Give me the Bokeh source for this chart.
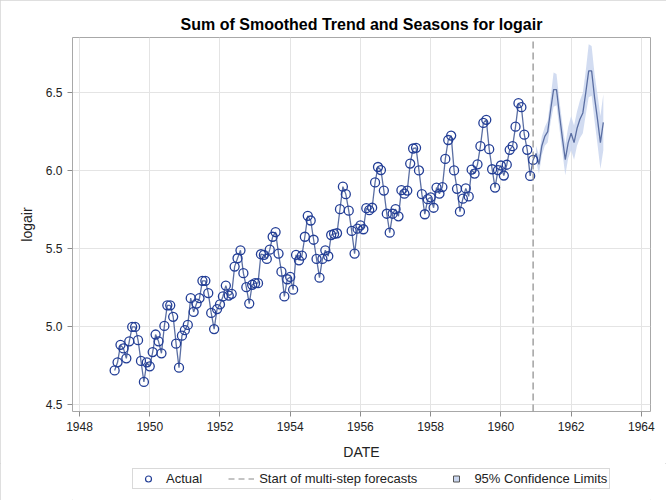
import numpy as np
from bokeh.plotting import figure
from bokeh.layouts import column
from bokeh.models import (Legend, LegendItem, FixedTicker, Range1d, NumeralTickFormatter)
from bokeh.embed import file_html
from bokeh.resources import INLINE

# ---------------- data ----------------
first_year = 1949
# log of monthly airline passengers, 1949-1960 (actual)
logair_1949 = [4.7185, 4.7707, 4.8828, 4.8598, 4.7958, 4.9053, 4.9972, 4.9972, 4.9127, 4.7791, 4.6444, 4.7707]
logair_1950 = [4.7449, 4.8363, 4.9488, 4.9053, 4.8283, 5.0039, 5.1358, 5.1358, 5.0626, 4.8903, 4.7362, 4.9416]
logair_1951 = [4.9767, 5.0106, 5.1818, 5.0938, 5.1475, 5.1818, 5.2933, 5.2933, 5.2149, 5.0876, 4.9836, 5.1120]
logair_1952 = [5.1417, 5.1930, 5.2627, 5.1985, 5.2095, 5.3845, 5.4381, 5.4889, 5.3423, 5.2523, 5.1475, 5.2679]
logair_1953 = [5.2781, 5.2781, 5.4638, 5.4596, 5.4337, 5.4931, 5.5759, 5.6058, 5.4681, 5.3519, 5.1930, 5.3033]
logair_1954 = [5.3181, 5.2364, 5.4596, 5.4250, 5.4553, 5.5759, 5.7104, 5.6802, 5.5568, 5.4337, 5.3132, 5.4337]
logair_1955 = [5.4889, 5.4510, 5.5872, 5.5947, 5.5984, 5.7526, 5.8972, 5.8493, 5.7430, 5.6131, 5.4681, 5.6276]
logair_1956 = [5.6490, 5.6240, 5.7589, 5.7462, 5.7621, 5.9243, 6.0234, 6.0039, 5.8721, 5.7236, 5.6021, 5.7236]
logair_1957 = [5.7526, 5.7071, 5.8749, 5.8522, 5.8721, 6.0450, 6.1420, 6.1463, 6.0014, 5.8493, 5.7203, 5.8171]
logair_1958 = [5.8289, 5.7621, 5.8916, 5.8522, 5.8944, 6.0753, 6.1964, 6.2246, 6.0014, 5.8833, 5.7366, 5.8201]
logair_1959 = [5.8861, 5.8348, 6.0064, 5.9814, 6.0403, 6.1570, 6.3063, 6.3261, 6.1377, 6.0088, 5.8916, 6.0039]
logair_1960 = [6.0331, 5.9687, 6.0379, 6.1334, 6.1570, 6.2823, 6.4329, 6.4069, 6.2305, 6.1334, 5.9661, 6.0684]

# smoothed trend + seasons, multi-step forecasts Jan 1961 - Dec 1962
forecast = [6.11, 6.04, 6.16, 6.22, 6.25, 6.39, 6.52, 6.52, 6.36, 6.21, 6.07, 6.18,
            6.24, 6.18, 6.27, 6.33, 6.37, 6.50, 6.64, 6.64, 6.47, 6.33, 6.18, 6.31]
upper95 = [6.16, 6.10, 6.22, 6.28, 6.32, 6.47, 6.63, 6.62, 6.45, 6.30, 6.17, 6.28,
           6.35, 6.29, 6.38, 6.45, 6.50, 6.64, 6.81, 6.80, 6.62, 6.49, 6.35, 6.49]
lower95 = [6.06, 5.98, 6.10, 6.16, 6.18, 6.31, 6.41, 6.42, 6.27, 6.12, 5.97, 6.08,
           6.13, 6.07, 6.16, 6.21, 6.24, 6.36, 6.47, 6.48, 6.32, 6.17, 6.01, 6.13]

x_ticks = [1948, 1950, 1952, 1954, 1956, 1958, 1960, 1962, 1964]
y_ticks = [4.5, 5.0, 5.5, 6.0, 6.5]
x_lo, x_hi = 1947.80, 1964.26
y_lo, y_hi = 4.455, 6.854

actual = (logair_1949 + logair_1950 + logair_1951 + logair_1952 + logair_1953 + logair_1954 +
          logair_1955 + logair_1956 + logair_1957 + logair_1958 + logair_1959 + logair_1960)
t_actual = first_year + np.arange(len(actual)) / 12.0
forecast_start = float(t_actual[-1])
t_fore = forecast_start + np.arange(1, len(forecast) + 1) / 12.0

line_x = np.concatenate([t_actual, t_fore])
line_y = list(actual) + list(forecast)

# ---------------- styling ----------------
FONT = "Liberation Sans"
MARKER = "#233E96"
LINE = "#5B6FA3"
BAND = "#CAD6EE"
TEXT = "#222222"
REF = "#8A8A8A"

p = figure(width=666, height=463, output_backend="svg", toolbar_location=None,
           x_range=Range1d(x_lo, x_hi), y_range=Range1d(y_lo, y_hi),
           min_border_left=72, min_border_right=16, min_border_top=37, min_border_bottom=52,
           title="Sum of Smoothed Trend and Seasons for logair")

p.title.align = "center"
p.title.text_font = FONT
p.title.text_font_size = "16px"
p.title.text_font_style = "bold"
p.title.text_color = "#000000"

p.background_fill_color = "white"
p.border_fill_color = "white"
p.outline_line_color = "#A8A8A8"
p.outline_line_width = 1

for ax in (p.xaxis[0], p.yaxis[0]):
    ax.axis_line_color = None
    ax.major_tick_line_color = "#8C8C8C"
    ax.major_tick_out = 5
    ax.major_tick_in = 0
    ax.minor_tick_line_color = None
    ax.major_label_text_font = FONT
    ax.major_label_text_font_size = "12px"
    ax.major_label_text_color = TEXT
    ax.axis_label_text_font = FONT
    ax.axis_label_text_font_size = "14px"
    ax.axis_label_text_font_style = "normal"
    ax.axis_label_text_color = TEXT
    ax.major_label_standoff = 5

p.xaxis.ticker = FixedTicker(ticks=x_ticks)
p.yaxis.ticker = FixedTicker(ticks=y_ticks)
p.yaxis.formatter = NumeralTickFormatter(format="0.0")
p.xaxis.formatter = NumeralTickFormatter(format="0")
p.xaxis.axis_label = "DATE"
p.yaxis.axis_label = "logair"
p.xaxis.axis_label_standoff = 10
p.yaxis.axis_label_standoff = 8

p.xgrid.ticker = FixedTicker(ticks=x_ticks)
p.ygrid.ticker = FixedTicker(ticks=y_ticks)
p.grid.grid_line_color = "#E4E4E4"
p.grid.grid_line_width = 1

# confidence band
p.varea(x=t_fore, y1=lower95, y2=upper95, fill_color=BAND, fill_alpha=0.85)

# smoothed / forecast line
p.line(x=line_x, y=line_y, line_color=LINE, line_width=1.3)

# actual points
p.scatter(x=t_actual, y=actual, marker="circle", size=9, fill_alpha=0,
          line_color=MARKER, line_width=1.3)

# reference line at the start of multi-step forecasts (spans the whole y range)
p.segment(x0=[forecast_start], y0=[y_lo], x1=[forecast_start], y1=[y_hi],
          line_color=REF, line_width=1.2, line_dash="7 4")

# ---------------- legend strip ----------------
lg = figure(width=666, height=37, output_backend="svg", toolbar_location=None,
            x_range=Range1d(0, 1), y_range=Range1d(0, 1),
            x_axis_type=None, y_axis_type=None,
            min_border_left=0, min_border_right=0, min_border_top=0, min_border_bottom=0)
lg.outline_line_color = None
lg.grid.visible = False
lg.background_fill_color = "white"
lg.border_fill_color = "white"

nan = [float("nan")]
k_actual = lg.scatter(x=nan, y=nan, marker="circle", size=9, fill_alpha=0,
                      line_color=MARKER, line_width=1.2)
k_ref = lg.line(x=nan, y=nan, line_color=REF, line_width=1.2, line_dash="6 4")
k_band = lg.scatter(x=nan, y=nan, marker="square", size=14, fill_color=BAND,
                    line_color="#555555", line_width=1)

legend = Legend(items=[LegendItem(label="Actual", renderers=[k_actual]),
                       LegendItem(label="Start of multi-step forecasts", renderers=[k_ref]),
                       LegendItem(label="95% Confidence Limits", renderers=[k_band])],
                orientation="horizontal", location=(60, 11),
                border_line_color="#B4B4B4", border_line_width=1,
                label_text_font=FONT, label_text_font_size="13px", label_text_color=TEXT,
                padding=2, spacing=26, margin=0, glyph_width=26, glyph_height=15,
                label_height=13, label_standoff=5, background_fill_color="white")
lg.add_layout(legend)

layout = column(p, lg, spacing=0,
                styles={"outline": "1px solid #D4D4D4", "outline-offset": "-1px"})
open("out.html", "w").write(file_html(layout, INLINE))
